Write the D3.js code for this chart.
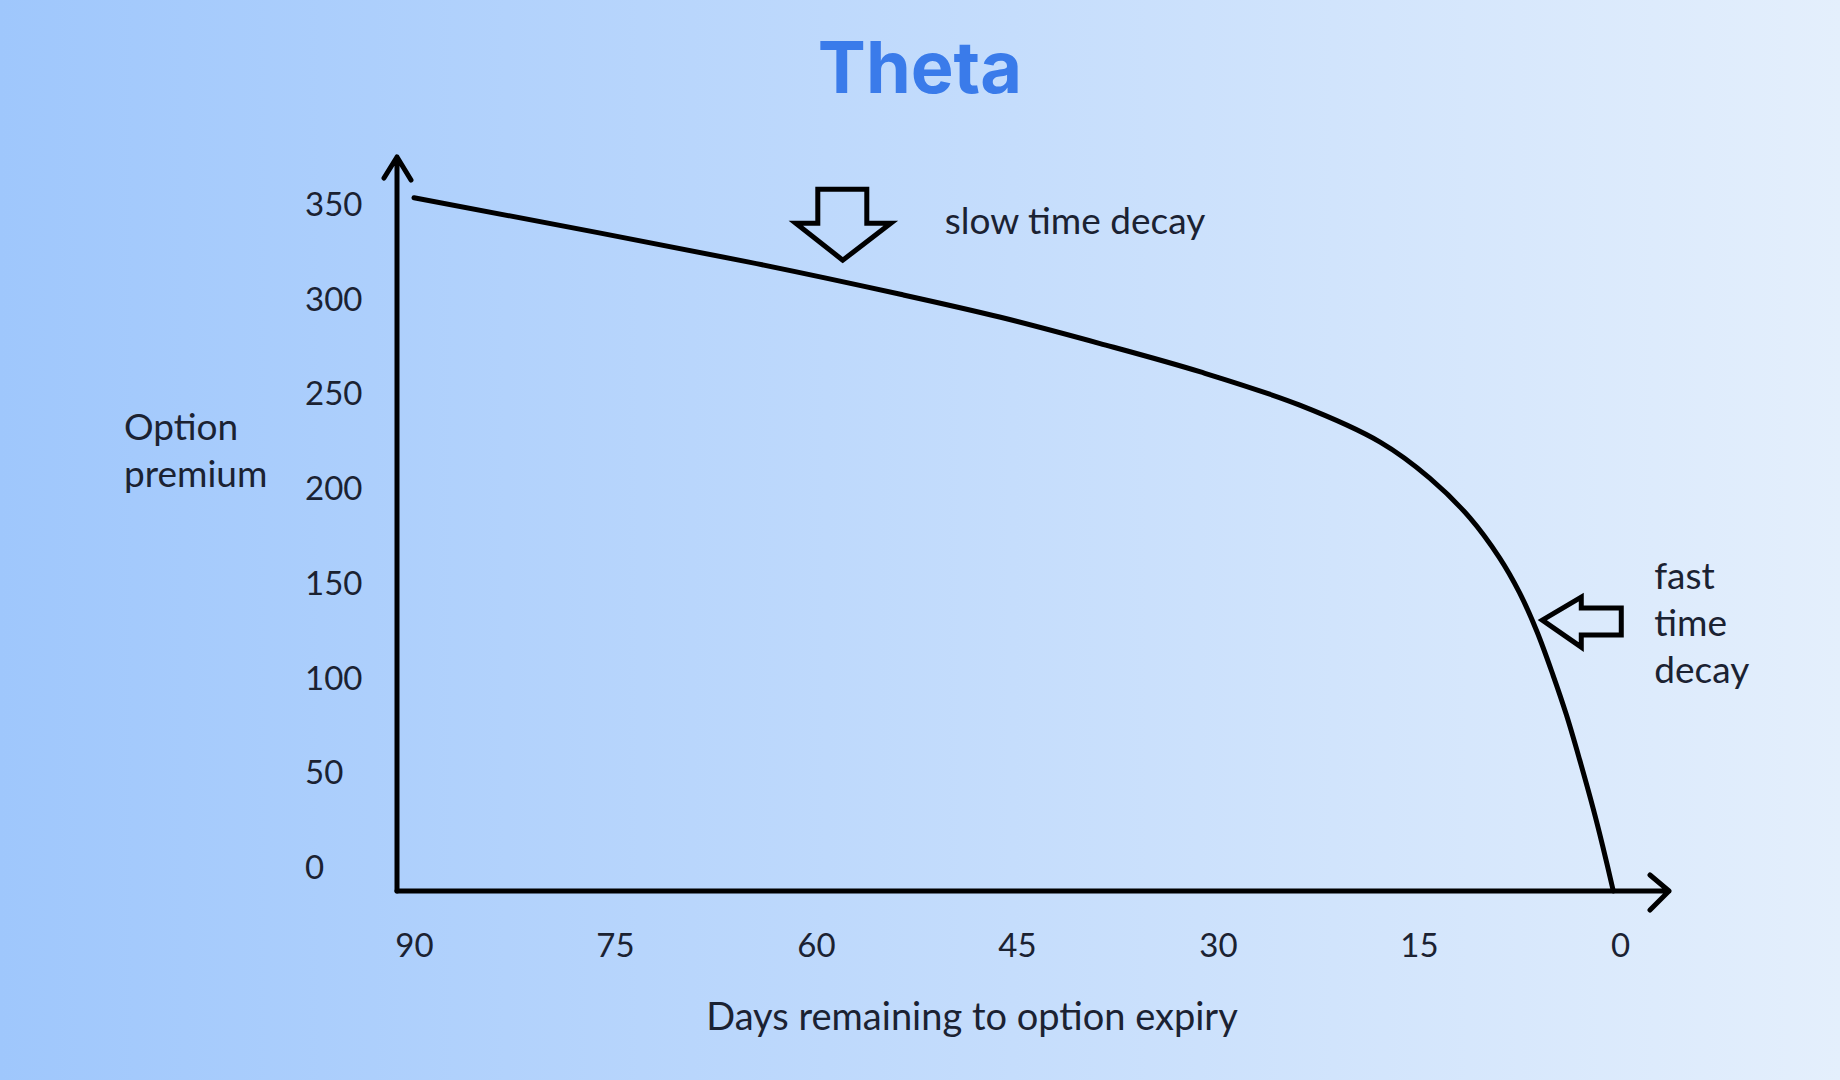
<!DOCTYPE html>
<html>
<head>
<meta charset="utf-8">
<script src="https://cdnjs.cloudflare.com/ajax/libs/d3/7.8.5/d3.min.js"></script>
<style>
    html, body { margin: 0; padding: 0; overflow: hidden; }
    svg { display: block; }
</style>
</head>
<body>
<svg id="chart"></svg>
<script>
// values
var days = [90, 65, 53.7, 46.3, 38.8, 31.3, 23.9, 17.9, 14.2, 11.2, 9, 7.5, 6.2, 5, 4, 3, 2, 1.3, 0.5];
var premium = [366, 332, 315, 303, 289, 274, 256.5, 237, 218, 197, 176, 157.5, 137, 114, 93, 69, 43.5, 24, 0];
var xTicks = [90, 75, 60, 45, 30, 15, 0];
var yTicks = [0, 50, 100, 150, 200, 250, 300, 350];

var width = 1840,
    height = 1080,
    axisX = 397,
    axisY = 891,
    ink = "#000",
    textColor = "#1b2232",
    textFont = "Lato, 'Open Sans', sans-serif";

var svg = d3.select("#chart")
    .attr("width", width)
    .attr("height", height);

var grad = svg.append("defs")
    .append("linearGradient")
    .attr("id", "bg")
    .attr("x1", "0%").attr("x2", "100%")
    .attr("y1", "0%").attr("y2", "0%");
grad.append("stop").attr("offset", "0%").attr("stop-color", "#9fc7fc");
grad.append("stop").attr("offset", "100%").attr("stop-color", "#e4effc");

svg.append("rect")
    .attr("width", width)
    .attr("height", height)
    .style("fill", "url(#bg)");

var x = d3.scaleLinear().domain([90, 0]).range([414, 1620]);
var y = d3.scaleLinear().domain([0, 350]).range([axisY, 228]);

// title
svg.append("text")
    .attr("x", 920)
    .attr("y", 93)
    .attr("text-anchor", "middle")
    .style("font-family", "Inter, sans-serif")
    .style("font-weight", 700)
    .style("font-size", "72px")
    .style("fill", "#3a7bea")
    .text("Theta");

// axes with open arrow heads
var g = svg.append("g")
    .style("stroke", ink)
    .style("stroke-width", 5)
    .style("fill", "none")
    .style("stroke-linecap", "round")
    .style("stroke-linejoin", "round");

g.append("path")
    .attr("d", "M" + axisX + "," + axisY + "V157" + "M" + (axisX - 13) + ",178L" + axisX + ",157L" + (axisX + 14) + ",180");
g.append("path")
    .attr("d", "M" + axisX + "," + axisY + "H1669" + "M1650,875L1669," + axisY + "L1650,910");

// tick labels
var xAxis = svg.append("g")
    .attr("transform", "translate(0,934)")
    .call(d3.axisBottom(x).tickValues(xTicks).tickSize(0).tickPadding(0));
var yAxis = svg.append("g")
    .attr("transform", "translate(305,-23)")
    .call(d3.axisRight(y).tickValues(yTicks).tickSize(0).tickPadding(0));

[xAxis, yAxis].forEach(function(a) {
    a.select(".domain").remove();
    a.selectAll("text")
        .style("font-family", textFont)
        .style("font-size", "33px")
        .style("fill", textColor);
});

// the decay curve
var line = d3.line()
    .x(function(d, i) { return x(days[i]); })
    .y(function(d) { return y(d); })
    .curve(d3.curveCatmullRom.alpha(0.5));

svg.append("path")
    .datum(premium)
    .attr("d", line)
    .style("fill", "none")
    .style("stroke", ink)
    .style("stroke-width", 5)
    .style("stroke-linecap", "round")
    .style("stroke-linejoin", "round");

function addText(tx, ty, lines, anchor, size) {
    var t = svg.append("text")
        .attr("text-anchor", anchor || "start")
        .style("font-family", textFont)
        .style("font-size", (size || 37) + "px")
        .style("fill", textColor);
    lines.forEach(function(l, i) {
        t.append("tspan")
            .attr("x", tx)
            .attr("y", ty + i * 47)
            .text(l);
    });
}

function downArrow(tx, ty) {
    var p = [[0, 0], [-47, -37], [-25, -37], [-25, -71], [24, -71], [24, -37], [48, -37]];
    svg.append("path")
        .attr("d", "M" + p.map(function(q) { return (tx + q[0]) + "," + (ty + q[1]); }).join("L") + "Z")
        .style("fill", "none")
        .style("stroke", ink)
        .style("stroke-width", 5)
        .style("stroke-linejoin", "miter");
}

function leftArrow(tx, ty) {
    var p = [[0, 0], [39, -23], [39, -12], [79, -12], [79, 15], [39, 15], [39, 27]];
    svg.append("path")
        .attr("d", "M" + p.map(function(q) { return (tx + q[0]) + "," + (ty + q[1]); }).join("L") + "Z")
        .style("fill", "none")
        .style("stroke", ink)
        .style("stroke-width", 5)
        .style("stroke-linejoin", "miter");
}

// annotations, anchored to the chart scales
var slowX = x(58), slowY = y(333);
downArrow(slowX, slowY);
addText(slowX + 102, slowY - 26, ["slow time decay"]);

var fastX = x(5.8), fastY = y(143);
leftArrow(fastX, fastY);
addText(fastX + 112, fastY - 31, ["fast", "time", "decay"]);

// axis titles
addText(124, 440, ["Option", "premium"]);
addText(972, 1030, ["Days remaining to option expiry"], "middle", 38);
</script>
</body>
</html>
